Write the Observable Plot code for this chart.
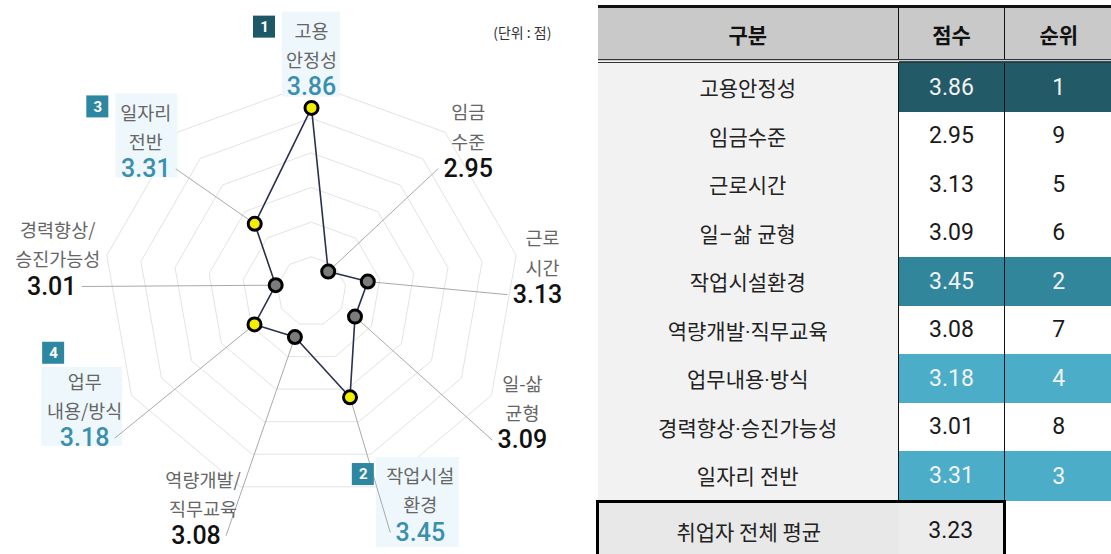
<!DOCTYPE html>
<html>
<head>
<meta charset="utf-8">
<script src="https://cdn.jsdelivr.net/npm/d3@7"></script>
<script src="https://cdn.jsdelivr.net/npm/@observablehq/plot@0.6"></script>
<style>
  html, body { margin: 0; padding: 0; background: #fff; }
  #wrap { position: relative; width: 1111px; height: 554px; overflow: hidden; }
  #chart { position: absolute; left: 0; top: 0; }
  #tbl { position: absolute; left: 596px; top: 5px; border-collapse: collapse; table-layout: fixed;
         font-family: "Noto Sans CJK KR", sans-serif; color: #222; }
  #tbl th { background: #c9c9c9; height: 51px; font-size: 21px; font-weight: 700; color: #111;
            border-top: 3px solid #111; border-bottom: 4px double #333; padding: 0; }
  #tbl td { height: 48.5px; padding: 0; text-align: center; font-size: 21px; }
  #tbl .lab { background: #f2f2f2; font-family: Roboto, "Noto Sans CJK KR", sans-serif; }
  #tbl .num { font-family: Roboto, sans-serif; font-size: 23px; font-weight: 400; color: #1a1a1a; }
  #tbl .vl { border-left: 1.5px solid #111; }
  #tbl tr.avg td { height: 56px; }
  #tbl tr.avg td.a1 { background: #e8e8e8; border-top: 3px solid #000; border-left: 3px solid #000; }
  #tbl tr.avg td.a2 { background: #ececec; border-top: 3px solid #000; border-right: 3px solid #000; }
</style>
</head>
<body>
<div id="wrap">
  <div id="chart"></div>
  <table id="tbl"></table>
</div>
<script>
// ---------------- data ----------------
const cats = ["고용안정성", "임금수준", "근로시간", "일–삶 균형", "작업시설환경", "역량개발·직무교육", "업무내용·방식", "경력향상·승진가능성", "일자리 전반"];
const labelLine1 = ["고용", "임금", "근로", "일-삶", "작업시설", "역량개발/", "업무", "경력향상/", "일자리"];
const labelLine2 = ["안정성", "수준", "시간", "균형", "환경", "직무교육", "내용/방식", "승진가능성", "전반"];
const scores = [3.86, 2.95, 3.13, 3.09, 3.45, 3.08, 3.18, 3.01, 3.31];
const ranks = [1, 9, 5, 6, 2, 7, 4, 8, 3];
const ringValues = [3.0, 3.2, 3.4, 3.6, 3.8, 4.0];
const radialOrigin = 2.8;
const headers = ["구분", "점수", "순위"];
const avgLabel = "취업자 전체 평균";
const avgScore = 3.23;
const unitText = "(단위 : 점)";

// ---------------- layout (not data) ----------------
const W = 590, H = 554, CX = 311, CY = 291, K = 173.2; // px per score unit
// label anchor in polar form: angle (deg clockwise from top), radius on the score scale
const labelLayout = [
  {ang: 0,     rad: 3.98,  tdx: 0, side: 0,  badge: [-47, -60], bg: [-29, 29, -75, 10]},
  {ang: 51.9,  rad: 3.95,  tdx: 0, side: -1},
  {ang: 90.8,  rad: 4.105, tdx: 5, side: -1},
  {ang: 125.2, rad: 4.29,  tdx: 0, side: -1},
  {ang: 155.7, rad: 4.327, tdx: 0, side: -1, badge: [-57, -58], bg: [-44, 39, -75, 15]},
  {ang: 205.3, rad: 4.36,  tdx: 7, side: 1},
  {ang: 237.1, rad: 4.36,  tdx: 0, side: 1,  badge: [-31, -85], bg: [-43, 38, -71, 8]},
  {ang: 271.1, rad: 4.30,  tdx: 6, side: 1},
  {ang: 306.5, rad: 3.99,  tdx: 0, side: 1,  badge: [-48, -62], bg: [-30, 32, -75, 9]}
];
const colors = {
  ring: "#e3e3e3", leader: "#a9a9a9", line: "#27324d",
  hiDot: "#f3ee00", loDot: "#7b7b7b", hiVal: "#3b8fae", loVal: "#111",
  badge1: "#1e5866", badge: "#2e87a0", glow: "#eef8fc", label: "#666"
};
const rankBg = r => r === 1 ? "#235a68" : r === 2 ? "#31869b" : r <= 4 ? "#4badc7" : null;

// ---------------- geometry ----------------
const n = cats.length;
const axisAng = i => i * 360 / n;
const polar = (v, deg) => {
  const a = deg * Math.PI / 180, r = v - radialOrigin;
  return [r * Math.sin(a), r * Math.cos(a)];
};

const rings = ringValues.flatMap(v => cats.map((c, i) => {
  const [x, y] = polar(v, axisAng(i));
  return {ring: v, x, y};
}));

const pts = cats.map((c, i) => {
  const [px, py] = polar(scores[i], axisAng(i));
  const L = labelLayout[i];
  const [lx, ly] = polar(L.rad, L.ang);
  return {cat: c, l1: labelLine1[i], l2: labelLine2[i], score: scores[i], rank: ranks[i], px, py, lx, ly, ...L};
});
const hi = d => d.rank <= 4;

const chart = Plot.plot({
  width: W, height: H,
  margin: 0,
  x: {domain: [-CX / K, (W - CX) / K], axis: null},
  y: {domain: [-(H - CY) / K, CY / K], axis: null},
  style: {fontFamily: "'Noto Sans CJK KR', sans-serif", background: "#fff"},
  marks: [
    Plot.line(rings, {x: "x", y: "y", z: "ring", curve: "linear-closed", stroke: colors.ring, strokeWidth: 1}),
    Plot.rect(pts.filter(d => d.bg), {
      x1: d => d.lx + d.bg[0] / K, x2: d => d.lx + d.bg[1] / K,
      y1: d => d.ly - d.bg[3] / K, y2: d => d.ly - d.bg[2] / K,
      fill: colors.glow
    }),
    Plot.link(pts.filter(d => d.side !== 0), {
      x1: d => d.lx + d.side * 30 / K, y1: "ly", x2: "px", y2: "py",
      stroke: colors.leader, strokeWidth: 1
    }),
    Plot.line(pts, {x: "px", y: "py", curve: "linear-closed", stroke: colors.line, strokeWidth: 1.6}),
    Plot.dot(pts, {x: "px", y: "py", r: 6.5, fill: d => hi(d) ? colors.hiDot : colors.loDot, stroke: "#000", strokeWidth: 3}),
    Plot.rect(pts.filter(d => d.badge), {
      x1: d => d.lx + (d.badge[0] - 11) / K, x2: d => d.lx + (d.badge[0] + 11) / K,
      y1: d => d.ly - (d.badge[1] + 11) / K, y2: d => d.ly - (d.badge[1] - 11) / K,
      fill: d => d.rank === 1 ? colors.badge1 : colors.badge
    }),
    Plot.text(pts.filter(d => d.badge), {
      x: d => d.lx + d.badge[0] / K, y: d => d.ly - d.badge[1] / K,
      text: d => String(d.rank), fill: "#fff", fontSize: 15, fontWeight: 700,
      fontFamily: "Roboto, sans-serif", lineAnchor: "middle"
    }),
    Plot.text(pts, {
      x: d => d.lx + d.tdx / K, y: d => d.ly + 44 / K, text: d => d.l1 + "\n" + d.l2,
      lineHeight: 1.58, fontSize: 18.5, fill: colors.label, lineAnchor: "middle"
    }),
    Plot.text(pts, {
      x: "lx", y: "ly", text: d => d.score.toFixed(2), fontSize: 25, fontWeight: 500,
      fontFamily: "Roboto, sans-serif", lineAnchor: "middle",
      fill: d => hi(d) ? colors.hiVal : colors.loVal
    }),
    Plot.text([unitText], {frameAnchor: "top-right", dx: -39, dy: 33, lineAnchor: "middle", fontSize: 14, fill: "#333"})
  ]
});
document.getElementById("chart").appendChild(chart);

// ---------------- table ----------------
const colW = [301, 106, 108];
const tbl = d3.select("#tbl");
const cg = tbl.append("colgroup");
colW.forEach(w => cg.append("col").style("width", w + "px"));
tbl.style("width", d3.sum(colW) + "px");
const hr = tbl.append("thead").append("tr");
headers.forEach((h, i) => hr.append("th").attr("class", i > 0 ? "vl" : null).text(h));
const tb = tbl.append("tbody");
cats.forEach((c, i) => {
  const tr = tb.append("tr");
  tr.append("td").attr("class", "lab").text(c);
  const bg = rankBg(ranks[i]);
  [scores[i].toFixed(2), String(ranks[i])].forEach(v => {
    const td = tr.append("td").attr("class", "num vl").text(v);
    if (bg) td.style("background", bg).style("color", "#f2f2f2");
  });
});
const ar = tb.append("tr").attr("class", "avg");
ar.append("td").attr("class", "a1").text(avgLabel);
ar.append("td").attr("class", "a2 num").text(avgScore.toFixed(2));
ar.append("td").style("background", "#fff");
</script>
</body>
</html>
